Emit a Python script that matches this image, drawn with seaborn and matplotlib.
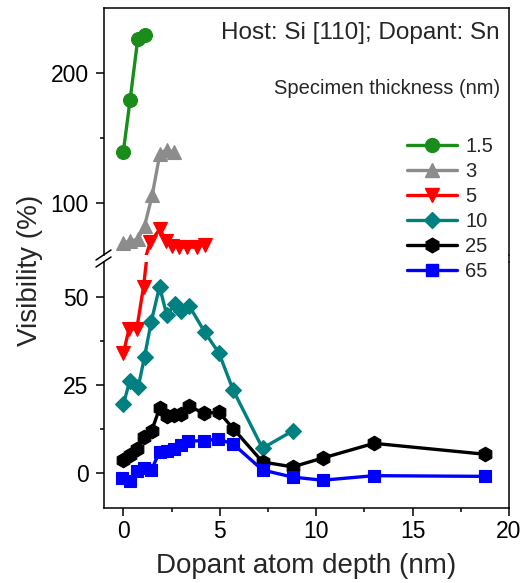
import numpy as np
import pandas as pd
import matplotlib
matplotlib.use("Agg")
import matplotlib.pyplot as plt
import seaborn as sns
from matplotlib.lines import Line2D

# ---------------- data ----------------
thickness_labels = ["1.5", "3", "5", "10", "25", "65"]

x_15 = [0.0, 0.35, 0.75, 1.1]
y_15 = [139, 179, 226, 229]

x_3 = [0.0, 0.35, 0.75, 1.1, 1.5, 1.9, 2.25, 2.65]
y_3 = [69, 71, 72, 82, 106, 138, 141, 139]

x_5 = [0.0, 0.3, 0.7, 1.05, 1.4, 1.9, 2.2, 2.5, 2.9, 3.3, 3.8, 4.25]
y_5 = [34, 41, 41, 53, 70, 80, 71, 67, 66, 66, 66, 68]

x_10 = [0.0, 0.33, 0.78, 1.1, 1.45, 1.88, 2.25, 2.7, 3.0, 3.42, 4.23, 4.97, 5.7, 7.22, 8.8]
y_10 = [19.5, 26, 24.5, 33, 43, 53, 45, 48, 46, 47.5, 40, 34, 23.5, 7, 12]

x_25 = [0.0, 0.33, 0.7, 1.05, 1.47, 1.88, 2.25, 2.63, 3.0, 3.4, 4.2, 4.97, 5.7, 7.22, 8.78, 10.33, 13.0, 18.75]
y_25 = [3.8, 5, 6.9, 10.1, 11.9, 18.4, 16.3, 16.5, 16.8, 18.9, 17, 17.2, 12.6, 3.1, 1.7, 4.2, 8.4, 5.3]

x_65 = [-0.05, 0.33, 0.7, 1.05, 1.45, 1.88, 2.25, 2.63, 3.0, 3.38, 4.2, 4.93, 5.7, 7.22, 8.78, 10.33, 13.0, 18.75]
y_65 = [-1.5, -2.3, 0.4, 1.3, 0.8, 5.9, 6.2, 6.9, 7.8, 9.0, 9.2, 9.6, 8.2, 0.8, -1.2, -2.1, -0.8, -1.0]

series_x = [x_15, x_3, x_5, x_10, x_25, x_65]
series_y = [y_15, y_3, y_5, y_10, y_25, y_65]

x_ticks = [0, 5, 10, 15, 20]
y_ticks_low = [0, 25, 50]
y_ticks_up = [100, 200]

colors = ["#1a8c1a", "#8c8c8c", "#ff0000", "#008080", "#000000", "#0000ff"]
markers = ["o", "^", "v", "D", "h", "s"]
msizes = [10, 10.5, 10.5, 8, 10.5, 8.5]

frames = []
for lab, xs, ys in zip(thickness_labels, series_x, series_y):
    frames.append(pd.DataFrame({"depth": xs, "vis": ys, "t": lab}))
df = pd.concat(frames, ignore_index=True)

# ---------------- figure ----------------
sns.set_theme(style="ticks")
plt.rcParams["font.family"] = ["Liberation Sans", "DejaVu Sans"]

W, H = 521, 583
fig = plt.figure(figsize=(W / 100, H / 100), dpi=100)


def fx(px):
    return px / W


def fy(py):
    return 1 - py / H


L, R = 104, 509
TOP, UPB, LOT, BOT = 8, 255, 262, 508
ax_up = fig.add_axes([fx(L), fy(UPB), fx(R) - fx(L), fy(TOP) - fy(UPB)])
ax_lo = fig.add_axes([fx(L), fy(BOT), fx(R) - fx(L), fy(LOT) - fy(BOT)])

LW = 2.4
for ax in (ax_up, ax_lo):
    for lab, c, m, ms in zip(thickness_labels, colors, markers, msizes):
        sub = df[df["t"] == lab]
        sns.lineplot(data=sub, x="depth", y="vis", ax=ax, color=c, marker=m,
                     markersize=ms, markeredgecolor=c, markeredgewidth=0.8,
                     linewidth=LW, sort=False, estimator=None, legend=False)
handles = [Line2D([], [], color=c, marker=m, markersize=ms, markeredgecolor=c, linewidth=LW)
           for c, m, ms in zip(colors, markers, msizes)]

for ax in (ax_up, ax_lo):
    ax.set_xlim(-1, 20)
    ax.set_xlabel("")
    ax.set_ylabel("")
    for s in ax.spines.values():
        s.set_linewidth(1.1)
        s.set_color("black")
    ax.tick_params(axis="both", which="major", direction="out", length=5.5, width=1.1,
                   labelsize=16.5, color="black", labelcolor="black")
    ax.tick_params(axis="y", which="major", pad=5.5)
    ax.tick_params(axis="x", which="major", pad=3.5)
    ax.tick_params(axis="both", which="minor", direction="out", length=3, width=1.1,
                   color="black")
    ax.tick_params(top=False, right=False, which="both")

ax_up.set_ylim(60, 250)
ax_up.set_yticks(y_ticks_up)
ax_up.set_yticks([150], minor=True)
ax_up.spines["bottom"].set_visible(False)
ax_up.tick_params(axis="x", which="both", bottom=False, labelbottom=False)

ax_lo.set_ylim(-10, 60)
ax_lo.set_yticks(y_ticks_low)
ax_lo.set_yticks([12.5, 37.5], minor=True)
ax_lo.set_xticks(x_ticks)
ax_lo.set_xticks([2.5, 7.5, 12.5, 17.5], minor=True)
ax_lo.spines["top"].set_visible(False)

# break marks and right-spine bridge
for yb in (UPB, LOT):
    fig.add_artist(Line2D([fx(L - 8), fx(L + 7)], [fy(yb + 5), fy(yb - 5)],
                          color="black", linewidth=1.1))
fig.add_artist(Line2D([fx(R), fx(R)], [fy(UPB), fy(LOT)], color="black", linewidth=1.1))

# texts
fig.text(fx(500), fy(33), "Host: Si [110]; Dopant: Sn", ha="right", va="center", fontsize=17.5)
fig.text(fx(500), fy(88), "Specimen thickness (nm)", ha="right", va="center", fontsize=14.5)
fig.text(fx(30), fy(270), "Visibility (%)", rotation=90, ha="center", va="center", fontsize=20)
fig.text(fx(306), fy(566), "Dopant atom depth (nm)", ha="center", va="center", fontsize=20)

fig.legend(handles, thickness_labels, loc="upper left", bbox_to_anchor=(fx(407), fy(137)),
           frameon=False, fontsize=14.5, handlelength=2.5, handletextpad=0.4,
           labelspacing=0.3, borderpad=0, borderaxespad=0, numpoints=1)

fig.savefig("out.png", dpi=100)
